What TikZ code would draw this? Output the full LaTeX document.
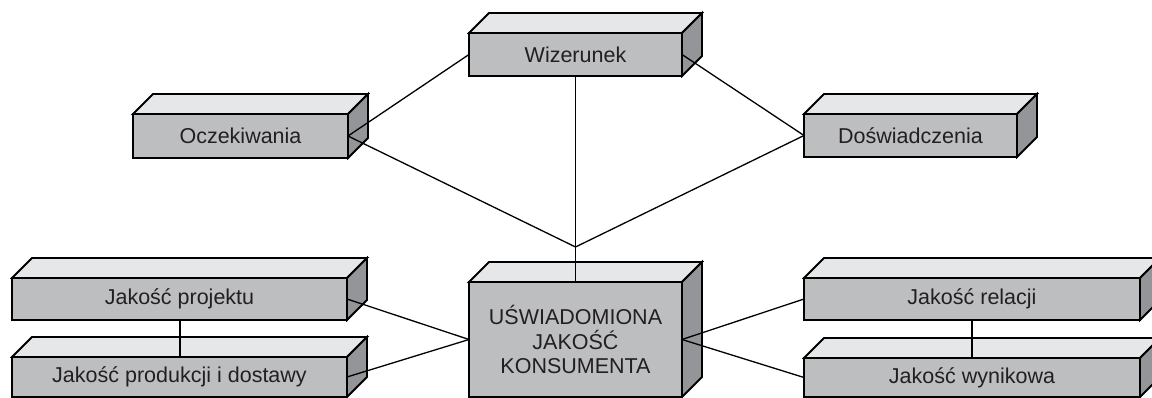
\documentclass[tikz,border=0pt]{standalone}
\usepackage{fontspec}
\setmainfont{Liberation Sans}
\definecolor{frontgray}{HTML}{BCBEC0}
\definecolor{topgray}{HTML}{E6E7E8}
\definecolor{sidegray}{HTML}{939598}
\definecolor{inkgray}{HTML}{231F20}
\tikzset{
  slabface/.style={rectangle, draw=black, line width=1.8pt, fill=frontgray,
    text=inkgray, font=\fontsize{21.5}{24.5}\selectfont, align=center,
    inner sep=0pt, outer sep=0pt},
  slabedge/.style={draw=black, line width=1.8pt, line join=miter},
  link/.style={draw=black, line width=1.3pt}
}
% A slab: front face as a named node, plus its top and right faces.
% #1 name, #2 x1, #3 y1, #4 x2, #5 y2 (front face corners), #6 text
\newcommand\slab[6]{%
  \node[slabface, minimum width={#4-#2}, minimum height={#5-#3}]
    (#1) at ({(#2+#4)/2},{(#3+#5)/2}) {#6};
  \filldraw[slabedge, fill=topgray] (#1.north west) -- ++(20,-20)
    -- ([shift={(20,-20)}]#1.north east) -- (#1.north east) -- cycle;
  \filldraw[slabedge, fill=sidegray] (#1.north east) -- ++(20,-20)
    -- ([shift={(20,-20)}]#1.south east) -- (#1.south east) -- cycle;
}
\begin{document}
\begin{tikzpicture}[x=1pt, y=-1pt]
  \useasboundingbox (0,0) rectangle (1152,398);
  \clip (0,0) rectangle (1152,398);

  % upper row
  \slab{wiz}{469}{33}{682}{76}{Wizerunek}
  \slab{ocz}{133}{114}{348}{158}{Oczekiwania}
  \slab{dos}{804}{114}{1017}{157}{Doświadczenia}

  % lower row
  \slab{proj}{12}{278}{347}{320}{Jakość projektu}
  \slab{prod}{12}{357}{347}{397}{Jakość produkcji i dostawy}
  \slab{center}{469}{282}{682}{397}{UŚWIADOMIONA\\JAKOŚĆ\\KONSUMENTA}
  \slab{rel}{804}{278}{1140}{320}{Jakość relacji}
  \slab{wyn}{804}{358}{1140}{397}{Jakość wynikowa}

  % junction where the two upper diagonals meet
  \coordinate (meet) at (575.5,247);

  % connectors
  \draw[link] (ocz.east) -- (wiz.west);
  \draw[link] (wiz.east) -- (dos.west);
  \draw[link] (wiz.south) -- (center.north);
  \draw[link] (ocz.east) -- (meet);
  \draw[link] (dos.west) -- (meet);
  \draw[link] (proj.east) -- (center.west);
  \draw[link] (prod.east) -- (center.west);
  \draw[link] (center.east) -- (rel.west);
  \draw[link] (center.east) -- (wyn.west);
  \draw[link] (proj.south -| 180,0) -- (prod.north -| 180,0);
  \draw[link] (rel.south -| 972,0) -- (wyn.north -| 972,0);
\end{tikzpicture}
\end{document}
